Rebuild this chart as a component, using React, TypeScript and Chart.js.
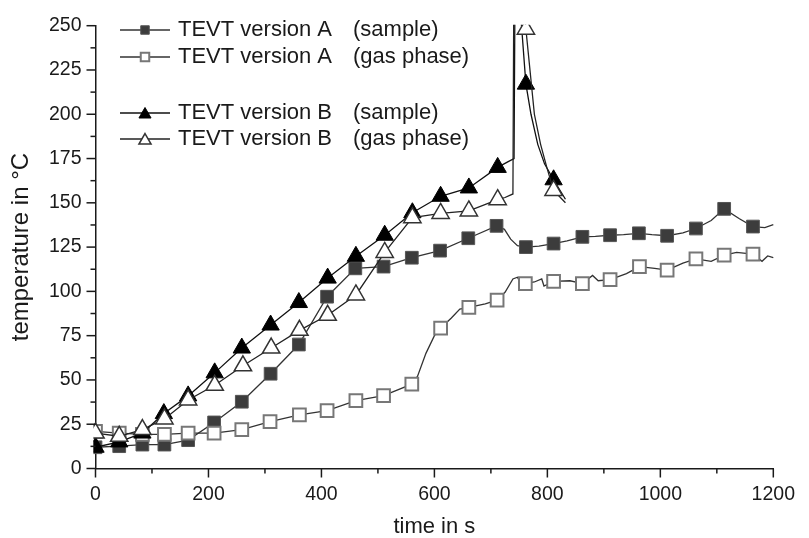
import React, { useEffect, useRef } from 'react';
import { Chart, registerables } from 'chart.js';

Chart.register(...registerables);

// ---------- data ----------
const xTitle = 'time in s';
const yTitle = 'temperature in °C';
const xMin = 0, xMax = 1200, xStep = 200, xMinor = 100;
const yMin = 0, yMax = 250, yStep = 25, yMinor = 12.5;

const legendNames = ['TEVT version A', 'TEVT version A', 'TEVT version B', 'TEVT version B'];
const legendConditions = ['(sample)', '(gas phase)', '(sample)', '(gas phase)'];

// TEVT version A (sample) – filled squares
const aSampleT = [0, 42, 83, 122, 164, 210, 259, 310, 360, 410, 460, 510, 560, 610, 660, 710, 724, 735, 747, 762, 785, 811, 835, 862, 885, 911, 935, 962, 985, 1012, 1040, 1063, 1090, 1113, 1140, 1164, 1185, 1200];
const aSampleV = [12, 12.6, 13.5, 13.5, 16, 26, 37.7, 53.5, 70, 97, 113, 114, 119, 123, 130, 137, 135, 129.5, 125.8, 125, 125.5, 127, 128.5, 130.8, 131, 131.7, 132, 132.8, 132, 131.4, 133, 135.5, 140, 146.6, 141, 136.6, 136, 137.7];
const aSampleMark = [1, 1, 1, 1, 1, 1, 1, 1, 1, 1, 1, 1, 1, 1, 1, 1, 0, 0, 0, 1, 0, 1, 0, 1, 0, 1, 0, 1, 0, 1, 0, 1, 0, 1, 0, 1, 0, 0];

// TEVT version A (gas phase) – open squares
const aGasT = [0, 42, 83, 122, 164, 210, 259, 309, 361, 410, 461, 510, 560, 570, 585, 600, 611, 630, 645, 661, 690, 711, 725, 739, 747, 753, 761, 777, 790, 794, 811, 840, 862, 880, 890, 911, 940, 963, 990, 1012, 1040, 1063, 1090, 1113, 1135, 1164, 1180, 1190, 1200];
const aGasV = [21, 20, 19.3, 19.3, 20, 20, 22, 26.5, 30.3, 32.7, 38.3, 41.2, 47.6, 52, 65, 75, 79.2, 85, 90, 91, 93, 95, 99.5, 107, 108, 104.4, 104.4, 105.3, 107, 103, 105.7, 106, 104.4, 109, 106, 106.6, 110, 114, 113, 112, 116, 118.3, 117, 120.5, 122, 121, 117, 120, 119];
const aGasMark = [1, 1, 1, 1, 1, 1, 1, 1, 1, 1, 1, 1, 1, 0, 0, 0, 1, 0, 0, 1, 0, 1, 0, 0, 0, 0, 1, 0, 0, 0, 1, 0, 1, 0, 0, 1, 0, 1, 0, 1, 0, 1, 0, 1, 0, 1, 0, 0, 0];

// TEVT version B (sample) – filled triangles
const bSampleT = [0, 42, 83, 121, 164, 211, 259, 310, 360, 411, 461, 512, 561, 611, 661, 712, 729, 741, 743, 747, 754, 762, 771, 783, 795, 811, 832];
const bSampleV = [12, 15, 20, 31, 41, 54, 68, 81, 93.7, 107.5, 119.8, 131.7, 144.4, 153.7, 158.4, 170, 173, 175, 290, 320, 251, 217, 200, 183, 172, 163, 152];
const bSampleMark = [1, 1, 1, 1, 1, 1, 1, 1, 1, 1, 1, 1, 1, 1, 1, 1, 0, 0, 0, 0, 0, 1, 0, 0, 0, 1, 0];

// TEVT version B (gas phase) – open triangles
const bGasT = [0, 42, 83, 122, 164, 211, 261, 311, 361, 411, 461, 512, 561, 611, 661, 712, 725, 739, 741, 748, 756, 762, 777, 788, 799, 811, 832];
const bGasV = [20, 18.2, 22, 28, 38.7, 47, 58, 68, 78, 86.5, 98, 122, 141.6, 144, 145.4, 151.8, 153, 155, 300, 330, 270, 248, 200, 183, 170, 157, 150];
const bGasMark = [1, 1, 1, 1, 1, 1, 1, 1, 1, 1, 1, 1, 1, 1, 1, 1, 0, 0, 0, 0, 0, 1, 0, 0, 0, 1, 0];

// ---------- helpers ----------
const FONT = '"Liberation Sans", Arial, sans-serif';
const toXY = (t: number[], v: number[]) => t.map((x, i) => ({ x, y: v[i] }));

type Style = { shape: 'rect' | 'triangle'; fill: string; stroke: string; strokeW: number; line: string; r: number };
const styles: Style[] = [
  { shape: 'rect', fill: '#3c3c3c', stroke: '#555555', strokeW: 1, line: '#333333', r: 9 },
  { shape: 'rect', fill: '#ffffff', stroke: '#777777', strokeW: 2, line: '#333333', r: 9 },
  { shape: 'triangle', fill: '#000000', stroke: '#000000', strokeW: 1, line: '#111111', r: 10 },
  { shape: 'triangle', fill: '#ffffff', stroke: '#333333', strokeW: 1.5, line: '#222222', r: 10 },
];

function drawShape(ctx: CanvasRenderingContext2D, s: Style, x: number, y: number, r: number) {
  ctx.beginPath();
  if (s.shape === 'rect') {
    const h = r * Math.SQRT1_2;
    ctx.rect(x - h, y - h, 2 * h, 2 * h);
  } else {
    for (let k = 0; k < 3; k++) {
      const a = (k * 2 * Math.PI) / 3;
      const px = x + Math.sin(a) * r;
      const py = y - Math.cos(a) * r;
      if (k === 0) ctx.moveTo(px, py); else ctx.lineTo(px, py);
    }
    ctx.closePath();
  }
  ctx.fillStyle = s.fill;
  ctx.fill();
  ctx.lineWidth = s.strokeW;
  ctx.strokeStyle = s.stroke;
  ctx.stroke();
}

const axisTicksPlugin = {
  id: 'axisTicks',
  afterDraw(chart: any) {
    const { ctx, chartArea, scales } = chart;
    const xs = scales.x, ys = scales.y;
    ctx.save();
    ctx.strokeStyle = '#1a1a1a';
    ctx.lineWidth = 1.5;
    for (let t = xMin; t <= xMax + 1e-6; t += xMinor) {
      const px = xs.getPixelForValue(t);
      const len = Math.abs(t % xStep) < 1e-6 ? 9 : 5;
      ctx.beginPath();
      ctx.moveTo(px, chartArea.bottom);
      ctx.lineTo(px, chartArea.bottom + len);
      ctx.stroke();
    }
    for (let v = yMin; v <= yMax + 1e-6; v += yMinor) {
      const py = ys.getPixelForValue(v);
      const len = Math.abs(v % yStep) < 1e-6 ? 9 : 5;
      ctx.beginPath();
      ctx.moveTo(chartArea.left, py);
      ctx.lineTo(chartArea.left - len, py);
      ctx.stroke();
    }
    ctx.restore();
  },
};

const legendPlugin = {
  id: 'customLegend',
  afterDraw(chart: any) {
    const { ctx } = chart;
    const rows = [30, 57, 113, 139];
    ctx.save();
    ctx.font = `22px ${FONT}`;
    ctx.textBaseline = 'middle';
    rows.forEach((y, i) => {
      const s = styles[i];
      ctx.beginPath();
      ctx.strokeStyle = s.line;
      ctx.lineWidth = 1.3;
      ctx.moveTo(120, y);
      ctx.lineTo(170, y);
      ctx.stroke();
      drawShape(ctx, s, 145, y + (s.shape === 'triangle' ? 1.5 : 0), s.shape === 'rect' ? 6 : 7);
      ctx.fillStyle = '#1a1a1a';
      ctx.fillText(legendNames[i], 178, y);
      ctx.fillText(legendConditions[i], 353, y);
    });
    ctx.restore();
  },
};

export default function App() {
  const ref = useRef<HTMLCanvasElement | null>(null);
  useEffect(() => {
    if (!ref.current) return;
    const series = [
      { t: aSampleT, v: aSampleV, m: aSampleMark, order: 4 },
      { t: aGasT, v: aGasV, m: aGasMark, order: 3 },
      { t: bSampleT, v: bSampleV, m: bSampleMark, order: 2 },
      { t: bGasT, v: bGasV, m: bGasMark, order: 1 },
    ];
    const datasets = series.map((s, i) => {
      const st = styles[i];
      return {
        label: `${legendNames[i]} ${legendConditions[i]}`,
        data: toXY(s.t, s.v),
        order: s.order,
        borderColor: st.line,
        borderWidth: 1.3,
        tension: 0,
        pointStyle: st.shape,
        pointRadius: (c: any) => (s.m[c.dataIndex] ? st.r : 0),
        pointHoverRadius: 0,
        pointBackgroundColor: st.fill,
        pointBorderColor: st.stroke,
        pointBorderWidth: st.strokeW,
        clip: { left: 2, right: 2, top: 1, bottom: 12 },
      };
    });
    const chart = new Chart(ref.current, {
      type: 'line',
      data: { datasets },
      options: {
        animation: false,
        responsive: false,
        events: [],
        layout: { padding: { top: 21, right: 23, left: 0, bottom: 0 } },
        plugins: { legend: { display: false }, tooltip: { enabled: false } },
        scales: {
          x: {
            type: 'linear',
            min: xMin,
            max: xMax,
            afterFit: (sc: any) => { sc.height = 69.5; },
            grid: { display: false, drawTicks: false },
            border: { display: true, color: '#1a1a1a', width: 1.5 },
            ticks: { stepSize: xStep, padding: 14, color: '#1a1a1a', font: { family: FONT, size: 19.5 }, maxRotation: 0, callback: (v: any) => String(v) },
            title: { display: true, text: xTitle, color: '#1a1a1a', font: { family: FONT, size: 22, lineHeight: 1 }, padding: { top: 0, bottom: 0 } },
          },
          y: {
            type: 'linear',
            min: yMin,
            max: yMax,
            afterFit: (sc: any) => { sc.width = 95.5; },
            grid: { display: false, drawTicks: false },
            border: { display: true, color: '#1a1a1a', width: 1.5 },
            ticks: { stepSize: yStep, padding: 14, color: '#1a1a1a', font: { family: FONT, size: 19.5 }, callback: (v: any) => String(v) },
            title: { display: true, text: yTitle, color: '#1a1a1a', font: { family: FONT, size: 24, lineHeight: 1.2 }, padding: { top: 7, bottom: 0 } },
          },
        },
      },
      plugins: [axisTicksPlugin, legendPlugin],
    });
    return () => chart.destroy();
  }, []);
  return (
    <div style={{ position: 'fixed', left: 0, top: 0, width: 809, height: 538, background: '#fff' }}>
      <canvas ref={ref} width={809} height={538} style={{ display: 'block' }} />
    </div>
  );
}
